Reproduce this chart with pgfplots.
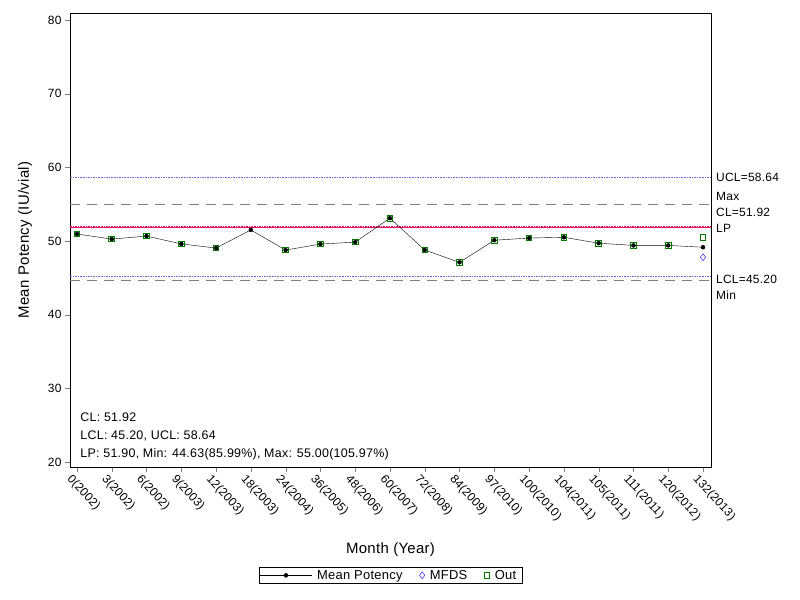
\documentclass[border=0pt]{standalone}
\usepackage{fontspec}
\setmainfont{Liberation Sans}[LetterSpace=2]
\usepackage{pgfplots}
\pgfplotsset{compat=1.18}
\definecolor{clblue}{RGB}{115,105,210}
\definecolor{outgreen}{RGB}{0,120,0}
\definecolor{clred}{RGB}{220,20,80}
\begin{document}
\begin{tikzpicture}[x=1bp,y=1bp]
\useasboundingbox (0,0) rectangle (800,600);
\begin{axis}[
  at={(70bp,133bp)}, anchor=south west,
  scale only axis, width=641bp, height=454bp,
  xmin=-0.2, xmax=18.23,
  ymin=19.32, ymax=80.95,
  ytick={20,30,...,80},
  xtick={0,...,18},
  xticklabels={0(2002),3(2002),6(2002),9(2003),12(2003),18(2003),24(2004),36(2005),48(2006),60(2007),72(2008),84(2009),97(2010),100(2010),104(2011),105(2011),111(2011),120(2012),132(2013)},
  x tick label style={rotate=-48, anchor=north west, xshift=-5bp, yshift=0bp},
  tick align=outside, tick pos=left,
  major tick length=5bp,
  tick label style={font=\fontsize{12}{14}\selectfont},
  /pgf/number format/assume math mode=true,
  xlabel={Month (Year)}, ylabel={Mean Potency (IU/vial)},
  label style={font=\fontsize{15}{17}\selectfont},
  xlabel style={at={(0.5,-0.183)}, anchor=center},
  ylabel style={at={(-0.07,0.5)}, anchor=center},
  clip=false,
  legend style={at={(0.5,-0.22)}, anchor=north, legend columns=3,
    font=\fontsize{13}{15}\selectfont, draw=black, inner sep=1bp,
    nodes={inner xsep=5bp},
    /tikz/every even column/.append style={column sep=12bp}},
  legend cell align=left,
]
% reference lines
\addplot[clblue, densely dotted, line width=1.6pt, forget plot] coordinates {(-0.2,58.64) (18.23,58.64)};
\addplot[gray, dash pattern=on 10bp off 7bp, forget plot] coordinates {(-0.2,55.00) (18.23,55.00)};
\addplot[magenta, line width=0.8pt, forget plot] coordinates {(-0.2,51.90) (18.23,51.90)};
\addplot[clred, densely dotted, line width=1.6pt, forget plot] coordinates {(-0.2,51.92) (18.23,51.92)};
\addplot[clblue, densely dotted, line width=1.6pt, forget plot] coordinates {(-0.2,45.20) (18.23,45.20)};
\addplot[gray, dash pattern=on 10bp off 7bp, forget plot] coordinates {(-0.2,44.63) (18.23,44.63)};
% data
\addplot[black, mark=*, mark size=2bp,
  legend image code/.code={\draw[mark repeat=2, mark phase=2] plot coordinates {(0bp,0bp) (26bp,0bp) (52bp,0bp)};}]
  coordinates {
 (0,50.95) (1,50.26) (2,50.66) (3,49.60) (4,49.04) (5,51.50) (6,48.77)
 (7,49.58) (8,49.85) (9,53.10) (10,48.77) (11,47.10) (12,50.10) (13,50.40)
 (14,50.50) (15,49.70) (16,49.40) (17,49.40) (18,49.15)};
\addlegendentry{Mean Potency}
\addplot[only marks, blue, mark=diamond, mark size=3.5bp] coordinates {(18,47.80)};
\addlegendentry{MFDS}
\addplot[only marks, outgreen, mark=square, mark size=2.8bp, line width=0.9pt] coordinates {
 (0,50.95) (1,50.26) (2,50.66) (3,49.60) (4,49.04) (6,48.77)
 (7,49.58) (8,49.85) (9,53.10) (10,48.77) (11,47.10) (12,50.10) (13,50.40)
 (14,50.50) (15,49.70) (16,49.40) (17,49.40) (18,50.50)};
\addlegendentry{Out}
% right-side labels
\begin{scope}[every node/.style={anchor=west, font=\fontsize{12}{14}\selectfont, inner sep=0pt, xshift=5bp}]
\node at (axis cs:18.23,58.64) {UCL=58.64};
\node at (axis cs:18.23,56.09) {Max};
\node at (axis cs:18.23,53.92) {CL=51.92};
\node at (axis cs:18.23,51.75) {LP};
\node at (axis cs:18.23,44.83) {LCL=45.20};
\node at (axis cs:18.23,42.66) {Min};
\end{scope}
\node[anchor=south west, align=left, font=\fontsize{12.5}{18}\selectfont, inner sep=0pt]
  at (rel axis cs:0.016,0.015) {CL: 51.92\\LCL: 45.20, UCL: 58.64\\LP: 51.90, Min: 44.63(85.99\%), Max: 55.00(105.97\%)};
\end{axis}
\end{tikzpicture}
\end{document}
